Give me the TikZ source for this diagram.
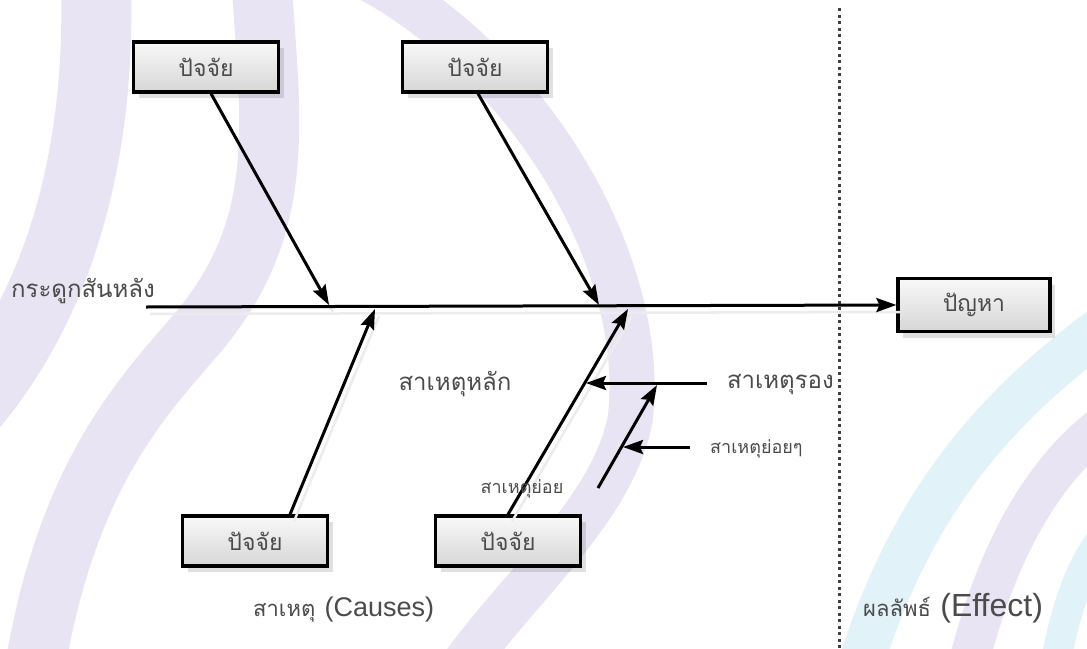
\documentclass[tikz,border=0pt]{standalone}
\usepackage{fontspec}
\setmainfont{Liberation Sans}
\newfontfamily\thai[Script=Thai]{Loma}
\usetikzlibrary{arrows.meta,shadows}
\definecolor{wmpurple}{RGB}{233,228,243}
\definecolor{wmcyan}{RGB}{226,242,249}
\definecolor{txt}{RGB}{75,75,75}
\tikzset{
  factor/.style={draw=black, line width=3.2pt, top color=gray!5, bottom color=gray!32,
    minimum width=145pt, minimum height=50pt, inner sep=0pt,
    font=\thai\fontsize{23}{26}\selectfont, text=txt,
    drop shadow={shadow xshift=5pt, shadow yshift=-6pt, opacity=0.12, fill=black}},
  bone/.style={line width=3pt, -{Stealth[length=20pt,width=14pt,inset=3pt]}},
  boneshadow/.style={line width=2.5pt, draw=gray!15},
  lbl/.style={font=\thai\fontsize{24}{28}\selectfont, text=txt, inner sep=1pt},
  slbl/.style={font=\thai\fontsize{18}{22}\selectfont, text=txt, inner sep=1pt},
  latin/.style={font=\fontsize{27}{30}\selectfont, text=txt, inner sep=1pt},
  wm/.style={line cap=round}
}
\begin{document}
\begin{tikzpicture}[x=1pt,y=-1pt]
\useasboundingbox (0,0) rectangle (1087,648);
\fill[white] (0,0) rectangle (1087,648);
% watermark
\begin{scope}
\clip (0,0) rectangle (1087,648);
\draw[wm, draw=wmpurple, line width=70pt] (95,-40) .. controls (105,150) and (60,310) .. (-40,420);
\draw[wm, draw=wmpurple, line width=60pt] (260,-40) .. controls (270,120) and (290,220) .. (200,330) .. controls (140,400) and (60,480) .. (30,700);
\draw[wm, draw=wmpurple, line width=45pt] (330,-40) .. controls (520,40) and (650,260) .. (630,420) .. controls (610,520) and (500,600) .. (440,700);
\draw[wm, draw=wmcyan, line width=45pt] (850,700) .. controls (900,520) and (980,420) .. (1100,330);
\draw[wm, draw=wmpurple, line width=40pt] (960,700) .. controls (990,560) and (1040,470) .. (1110,420);
\draw[wm, draw=wmcyan, line width=30pt] (1050,700) .. controls (1060,620) and (1080,560) .. (1110,530);
\end{scope}
% boxes
\node[factor] (f1) at (206,67) {ปัจจัย};
\node[factor] (f2) at (475,67) {ปัจจัย};
\node[factor] (f3) at (255,541) {ปัจจัย};
\node[factor] (f4) at (508,541) {ปัจจัย};
\node[factor, minimum width=152pt, minimum height=53pt] (p) at (974,305) {ปัญหา};
% coordinates
\coordinate (s0) at (146,307);
\coordinate (t1) at (329,305);
\coordinate (t2) at (599,305);
\coordinate (t3) at (375,309);
\coordinate (t4) at (628,309);
\coordinate (r0) at (707,383);
\coordinate (r1) at (586,383);
\coordinate (u0) at (598,488);
\coordinate (u1) at (657,385);
\coordinate (v0) at (690,447);
\coordinate (v1) at (623,447);
\coordinate (d0) at (839,8);
\coordinate (d1) at (839,648);
% line shadows
\begin{scope}[transform canvas={shift={(4pt,-7pt)}}]
\draw[boneshadow] (s0) -- (p.west);
\draw[boneshadow] ([xshift=5pt]f1.south) -- (t1);
\draw[boneshadow] ([xshift=3pt]f2.south) -- (t2);
\draw[boneshadow] ([xshift=35pt]f3.north) -- (t3);
\draw[boneshadow] (f4.north) -- (t4);
\end{scope}
% dotted divider
\draw[line width=3pt, dash pattern=on 3pt off 3.5pt, draw=black!75] (d0) -- (d1);
% bones
\draw[bone] (s0) -- (p.west);
\draw[bone] ([xshift=5pt]f1.south) -- (t1);
\draw[bone] ([xshift=3pt]f2.south) -- (t2);
\draw[bone] ([xshift=35pt]f3.north) -- (t3);
\draw[bone] (f4.north) -- (t4);
\draw[bone] (r0) -- (r1);
\draw[bone] (u0) -- (u1);
\draw[bone] (v0) -- (v1);
% labels
\node[lbl, anchor=west] (lspine) at (10,291) {กระดูกสันหลัง};
\node[lbl] (lmain) at (455,384) {สาเหตุหลัก};
\node[lbl, anchor=east] (lsec) at (835,385) {สาเหตุรอง};
\node[slbl, anchor=west] (lsub2) at (709,449) {สาเหตุย่อยๆ};
\node[slbl] (lsub) at (522,489) {สาเหตุย่อย};
\node[lbl, font=\thai\fontsize{22}{26}\selectfont, anchor=base west] (lcause) at (252,616) {สาเหตุ};
\node[latin, anchor=base west] (lcauseen) at ([xshift=7pt]lcause.base east) {(Causes)};
\node[lbl, font=\thai\fontsize{22}{26}\selectfont, anchor=base west] (leffect) at (862,616) {ผลลัพธ์};
\node[latin, font=\fontsize{32}{35}\selectfont, anchor=base west] (leffecten) at ([xshift=7pt]leffect.base east) {(Effect)};
\end{tikzpicture}
\end{document}
